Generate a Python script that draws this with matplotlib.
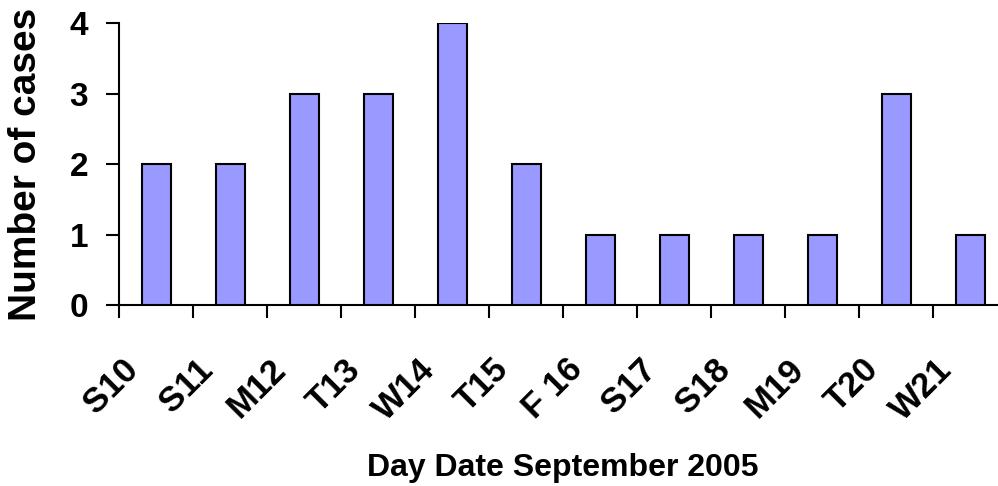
import matplotlib
matplotlib.use("Agg")
import matplotlib.pyplot as plt
from matplotlib.transforms import ScaledTranslation
import numpy as np

categories = ["S10", "S11", "M12", "T13", "W14", "T15", "F 16", "S17", "S18", "M19", "T20", "W21"]
cases = [2, 2, 3, 3, 4, 2, 1, 1, 1, 1, 3, 1]
y_ticks = [0, 1, 2, 3, 4]

plt.rcParams['font.family'] = ['Liberation Sans', 'DejaVu Sans']
plt.rcParams['font.weight'] = 'bold'

fig = plt.figure(figsize=(9.98, 4.86), dpi=100)
ax = fig.add_axes([119.3 / 998, 1 - 305 / 486, 888 / 998, 282 / 486])

x = np.arange(len(categories))
ax.bar(x, cases, width=0.39, color="#9999FF", edgecolor="black", linewidth=1.5, zorder=3)

ax.set_xlim(-0.5, len(categories) - 0.5)
ax.set_ylim(0, 4)
ax.set_yticks(y_ticks)
ax.set_yticklabels([str(v) for v in y_ticks], fontsize=24, fontweight='bold')

# major ticks at category boundaries, labels at category centres
ax.set_xticks(np.arange(len(categories) + 1) - 0.5)
ax.set_xticklabels([])
ax.set_xticks(x, minor=True)
ax.set_xticklabels(categories, minor=True, rotation=45, ha='right', va='center',
                   rotation_mode='anchor', fontsize=25, fontweight='bold')
ax.tick_params(axis='x', which='minor', length=0, pad=42.8)
ax.tick_params(axis='x', which='major', length=9.5, width=1.5, direction='out')
ax.tick_params(axis='y', length=9.5, width=1.5, direction='out', pad=13)

shift = ScaledTranslation(-23 / 100, 0, fig.dpi_scale_trans)
for lab in ax.get_xticklabels(minor=True):
    lab.set_transform(lab.get_transform() + shift)

for s in ['top', 'right']:
    ax.spines[s].set_visible(False)
for s in ['left', 'bottom']:
    ax.spines[s].set_linewidth(1.5)

ax.set_ylabel("Number of cases", fontsize=28, fontweight='bold', va='center')
ax.yaxis.set_label_coords((26 - 119.3) / 888, 0.5)
ax.set_xlabel("Day Date September 2005", fontsize=23, fontweight='bold', va='baseline')
ax.xaxis.set_label_coords(0.4997, (305 - 476) / 282)

fig.savefig("out.png", dpi=100)
